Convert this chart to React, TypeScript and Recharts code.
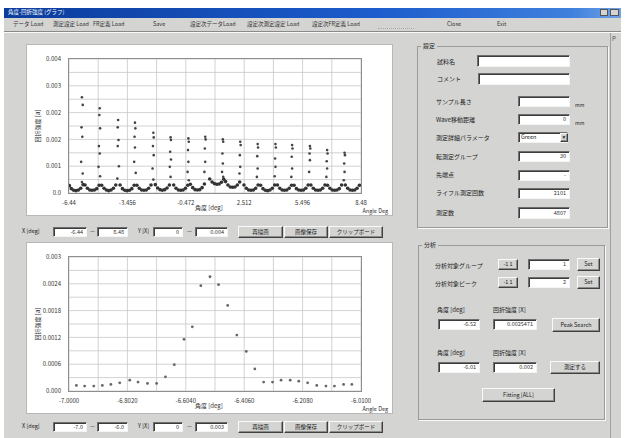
import React from 'react';
import { ScatterChart, Scatter, XAxis, YAxis, CartesianGrid } from 'recharts';

// ---- upper chart: full scan -------------------------------------------------
const topXTicks = [-6.44, -4.948, -3.456, -1.964, -0.472, 1.02, 2.512, 4.004, 5.496, 6.988, 8.48];
const topXLabels = ['-6.44', '', '-3.456', '', '-0.472', '', '2.512', '', '5.496', '', '8.48'];
const topYTicks = [0, 0.0004, 0.0008, 0.0012, 0.0016, 0.002, 0.0024, 0.0028, 0.0032, 0.0036, 0.004];
const topYLabels = ['0.0', '', '0.001', '', '0.002', '', '0.002', '', '0.003', '', '0.004'];

// bowl shaped background points under every step
const topBase: [number, number][] = [
  [-6.42, 0.00022], [-6.32, 0.00013], [-6.2, 0.00008], [-6.08, 0.00007], [-5.96, 0.00009], [-5.84, 0.00014], [-5.72, 0.00025],
  [-5.62, 0.00024], [-5.5, 0.00014], [-5.38, 0.00009], [-5.26, 0.00008], [-5.14, 0.00009], [-5.02, 0.00013], [-4.9, 0.00023],
  [-4.77, 0.00023], [-4.65, 0.00014], [-4.53, 0.00009], [-4.41, 0.00007], [-4.29, 0.00009], [-4.17, 0.00014], [-4.05, 0.00024],
  [-3.83, 0.00024], [-3.71, 0.00013], [-3.59, 0.00008], [-3.47, 0.00007], [-3.35, 0.00008], [-3.23, 0.00013], [-3.11, 0.00023],
  [-2.97, 0.00023], [-2.85, 0.00014], [-2.73, 0.00009], [-2.61, 0.00008], [-2.49, 0.00009], [-2.37, 0.00014], [-2.25, 0.00024],
  [-2.03, 0.00025], [-1.91, 0.00015], [-1.79, 0.0001], [-1.67, 0.00008], [-1.55, 0.0001], [-1.43, 0.00015], [-1.31, 0.00024],
  [-1.09, 0.00024], [-0.97, 0.00014], [-0.85, 0.00009], [-0.73, 0.00008], [-0.61, 0.00009], [-0.49, 0.00014], [-0.37, 0.00023],
  [-0.24, 0.00026], [-0.12, 0.00016], [0.0, 0.0001], [0.12, 0.00009], [0.24, 0.0001], [0.36, 0.00016], [0.48, 0.00027],
  [0.75, 0.00042], [0.87, 0.00033], [0.99, 0.00028], [1.11, 0.00026], [1.23, 0.00027], [1.35, 0.00032], [1.47, 0.00041],
  [1.56, 0.00034], [1.68, 0.00024], [1.8, 0.00018], [1.92, 0.00017], [2.04, 0.00018], [2.16, 0.00024], [2.28, 0.00033],
  [2.5, 0.00024], [2.62, 0.00014], [2.74, 0.00009], [2.86, 0.00008], [2.98, 0.00009], [3.1, 0.00014], [3.22, 0.00024],
  [3.35, 0.00023], [3.47, 0.00013], [3.59, 0.00008], [3.71, 0.00007], [3.83, 0.00009], [3.95, 0.00014], [4.07, 0.00024],
  [4.21, 0.00024], [4.33, 0.00014], [4.45, 0.00009], [4.57, 0.00008], [4.69, 0.00009], [4.81, 0.00014], [4.93, 0.00023],
  [5.06, 0.00023], [5.18, 0.00013], [5.3, 0.00009], [5.42, 0.00008], [5.54, 0.00009], [5.66, 0.00014], [5.78, 0.00024],
  [5.92, 0.00024], [6.04, 0.00014], [6.16, 0.00009], [6.28, 0.00008], [6.4, 0.00009], [6.52, 0.00014], [6.64, 0.00024],
  [6.77, 0.00023], [6.89, 0.00014], [7.01, 0.00009], [7.13, 0.00008], [7.25, 0.00009], [7.37, 0.00013], [7.49, 0.00024],
  [7.68, 0.00024], [7.8, 0.00014], [7.92, 0.00009], [8.04, 0.00008], [8.16, 0.00009], [8.28, 0.00014], [8.4, 0.00023],
];

// vertical columns of measured points
const topPeaks: [number, number][] = [
  [-5.78, 0.00286], [-5.74, 0.00263], [-5.8, 0.00196], [-5.76, 0.00168], [-5.82, 0.00093], [-5.74, 0.00058], [-5.78, 0.00033],
  [-4.87, 0.00253], [-4.89, 0.00233], [-4.85, 0.00193], [-4.91, 0.0014], [-4.87, 0.00118], [-4.93, 0.00078], [-4.85, 0.0005],
  [-3.93, 0.00218], [-3.95, 0.00196], [-3.91, 0.00158], [-3.95, 0.0014], [-3.89, 0.0008], [-3.97, 0.00043],
  [-3.07, 0.0021], [-3.05, 0.00193], [-3.09, 0.00168], [-3.07, 0.00136], [-3.11, 0.00093], [-3.03, 0.0006],
  [-2.13, 0.0018], [-2.11, 0.00166], [-2.15, 0.0014], [-2.11, 0.00113], [-2.17, 0.00073], [-2.13, 0.0004],
  [-1.25, 0.00166], [-1.23, 0.00158], [-1.27, 0.00123], [-1.23, 0.001], [-1.29, 0.00078], [-1.25, 0.00048],
  [-0.34, 0.00163], [-0.32, 0.00153], [-0.36, 0.00128], [-0.34, 0.00093], [-0.38, 0.00063], [-0.32, 0.00038],
  [0.52, 0.00168], [0.54, 0.0016], [0.5, 0.00133], [0.52, 0.00093], [0.48, 0.00063],
  [1.42, 0.0016], [1.44, 0.00153], [1.4, 0.00118], [1.42, 0.00088], [1.38, 0.00063], [1.44, 0.00048],
  [2.31, 0.00153], [2.33, 0.00143], [2.29, 0.00113], [2.31, 0.00078], [2.27, 0.00058],
  [3.2, 0.00146], [3.22, 0.00136], [3.18, 0.0011], [3.2, 0.00073], [3.16, 0.00048],
  [4.11, 0.00146], [4.13, 0.00136], [4.09, 0.00103], [4.11, 0.00078], [4.07, 0.0005],
  [4.96, 0.00143], [4.98, 0.00133], [4.94, 0.00108], [4.96, 0.00073], [4.92, 0.00048],
  [5.87, 0.0014], [5.89, 0.00133], [5.85, 0.00118], [5.87, 0.00098], [5.83, 0.00063],
  [6.75, 0.00128], [6.77, 0.00118], [6.73, 0.00095], [6.75, 0.00073], [6.71, 0.00048],
  [7.64, 0.0012], [7.66, 0.00113], [7.62, 0.00088], [7.64, 0.00063], [7.6, 0.00038],
];

// ---- lower chart: zoomed peak ------------------------------------------------
const botXTicks = [-7.0, -6.901, -6.802, -6.703, -6.604, -6.505, -6.406, -6.307, -6.208, -6.109, -6.01];
const botXLabels = ['-7.0000', '', '-6.8020', '', '-6.6040', '', '-6.4060', '', '-6.2080', '', '-6.0100'];
const botYTicks = [0, 0.0003, 0.0006, 0.0009, 0.0012, 0.0015, 0.0018, 0.0021, 0.0024, 0.0027, 0.003];
const botYLabels = ['0.000', '', '0.0006', '', '0.0012', '', '0.0018', '', '0.0024', '', '0.003'];

const peakAngle = [
  -6.975, -6.947, -6.916, -6.887, -6.858, -6.828, -6.794, -6.766, -6.734, -6.703, -6.673, -6.643, -6.61, -6.582, -6.553, -6.522,
  -6.493, -6.462, -6.431, -6.399, -6.37, -6.34, -6.31, -6.281, -6.25, -6.221, -6.191, -6.16, -6.129, -6.1, -6.069, -6.041,
];
const peakIntensity = [
  0.000125, 0.00011, 0.00011, 0.000125, 0.000147, 0.000184, 0.000243, 0.000199, 0.00017, 0.00017, 0.000317, 0.00059, 0.001157, 0.001437, 0.002359, 0.002558,
  0.002381, 0.001916, 0.001253, 0.000885, 0.000494, 0.000199, 0.000199, 0.000243, 0.000243, 0.000221, 0.000184, 0.000125, 0.00011, 0.00011, 0.000147, 0.000147,
];

const topBaseData = topBase.map(([x, y]) => ({ x, y }));
const topPeakData = topPeaks.map(([x, y]) => ({ x, y }));
const botData = peakAngle.map((x, i) => ({ x, y: peakIntensity[i] }));

const UI_FONT = '"Noto Sans CJK JP", "DejaVu Sans", sans-serif';
const FACE = '#d4d4d2';

const Dot = (r: number, fill: string) => (props: any) =>
  props.cx == null ? <g /> : <circle cx={props.cx} cy={props.cy} r={r} fill={fill} />;

const Txt = ({ x, y, children, size = 6, color = '#222', bold = false }: any) => (
  <div style={{ position: 'absolute', left: x, top: y, fontSize: size, color, whiteSpace: 'nowrap', lineHeight: 1, fontWeight: bold ? 700 : 400 }}>
    {children}
  </div>
);

const Input = ({ x, y, w, h = 10, value = '' }: any) => (
  <div
    style={{
      position: 'absolute', left: x, top: y, width: w, height: h, boxSizing: 'border-box', background: '#fff',
      borderTop: '1px solid #6e6e6e', borderLeft: '1px solid #6e6e6e', borderRight: '1px solid #f4f4f4', borderBottom: '1px solid #f4f4f4',
      boxShadow: 'inset 1px 1px 0 #3c3c3c', fontSize: 5.5, color: '#333', textAlign: 'right', paddingRight: 3, lineHeight: `${h - 2}px`,
    }}
  >
    {value}
  </div>
);

const Btn = ({ x, y, w, h = 12, label }: any) => (
  <div
    style={{
      position: 'absolute', left: x, top: y, width: w, height: h, boxSizing: 'border-box', background: FACE,
      borderTop: '1px solid #fafafa', borderLeft: '1px solid #fafafa', borderRight: '1px solid #404040', borderBottom: '1px solid #404040',
      boxShadow: 'inset -1px -1px 0 #8c8c8c', fontSize: 5.5, color: '#222', textAlign: 'center', lineHeight: `${h - 2}px`,
    }}
  >
    {label}
  </div>
);

const Group = ({ x, y, w, h, title }: any) => (
  <>
    <div style={{ position: 'absolute', left: x, top: y, width: w, height: h, boxSizing: 'border-box', border: '1px solid #9a9a9a', boxShadow: '1px 1px 0 #fafafa' }} />
    <div style={{ position: 'absolute', left: x + 4, top: y - 3, background: FACE, padding: '0 2px', fontSize: 6, color: '#222', lineHeight: 1 }}>{title}</div>
  </>
);

interface PlotProps {
  left: number;
  top: number;
  series: { data: { x: number; y: number }[]; r: number; fill: string }[];
  xDomain: [number, number];
  yDomain: [number, number];
  xTicks: number[];
  xLabels: string[];
  yTicks: number[];
  yLabels: string[];
}

const W = 365;
const H = 170;
const M = { top: 14, right: 31, bottom: 0, left: 0 };
const YW = 42;
const XH = 22;

const Plot = ({ left, top, series, xDomain, yDomain, xTicks, xLabels, yTicks, yLabels }: PlotProps) => {
  const pw = W - M.left - M.right - YW;
  const ph = H - M.top - M.bottom - XH;
  return (
    <div style={{ position: 'absolute', left, top, width: W, height: H, background: '#fff', boxShadow: '0 0 0 1px #b8b8b8' }}>
      <ScatterChart width={W} height={H} margin={M}>
        <CartesianGrid stroke="#c6c6c6" strokeWidth={0.8} />
        <XAxis
          type="number"
          dataKey="x"
          domain={xDomain}
          ticks={xTicks}
          interval={0}
          allowDataOverflow
          height={XH}
          axisLine={false}
          tickLine={false}
          tick={{ fontSize: 6, fill: '#333', fontFamily: UI_FONT }}
          tickFormatter={(_v: number, i: number) => xLabels[i]}
        />
        <YAxis
          type="number"
          dataKey="y"
          domain={yDomain}
          ticks={yTicks}
          interval={0}
          allowDataOverflow
          width={YW}
          axisLine={false}
          tickLine={false}
          tick={{ fontSize: 6, fill: '#333', fontFamily: UI_FONT }}
          tickFormatter={(_v: number, i: number) => yLabels[i]}
        />
        {series.map((s, i) => (
          <Scatter key={i} data={s.data} shape={Dot(s.r, s.fill)} isAnimationActive={false} />
        ))}
      </ScatterChart>
      <div
        style={{
          position: 'absolute', left: M.left + YW - 1, top: M.top - 1, width: pw + 2, height: ph + 2,
          boxSizing: 'border-box', border: '1.5px solid #8e8e8e', pointerEvents: 'none',
        }}
      />
      <div style={{ position: 'absolute', left: 10, top: M.top + ph / 2, transform: 'translate(-50%, -50%) rotate(-90deg)', fontSize: 6, color: '#333', whiteSpace: 'nowrap' }}>
        回折強度 [a]
      </div>
      <div style={{ position: 'absolute', left: 168, top: 160, fontSize: 6, color: '#333', whiteSpace: 'nowrap', lineHeight: 1 }}>角度 [deg]</div>
      <div style={{ position: 'absolute', right: 4, top: 164, fontSize: 5.5, color: '#333', whiteSpace: 'nowrap', lineHeight: 1 }}>Angle Deg</div>
    </div>
  );
};

const toolbar: [number, string][] = [
  [13, 'データ Load'], [53, '測定設定 Load'], [93, 'FR定義 Load'], [153, 'Save'], [190, '設定次データLoad'],
  [247, '設定次測定設定 Load'], [312, '設定次FR定義 Load'], [447, 'Close'], [497, 'Exit'],
];

const settingRows: [string, number][] = [
  ['サンプル長さ', 102], ['Wave移動距離', 120], ['測定詳細パラメータ', 138], ['転測定グループ', 157], ['先端点', 175], ['ライフル測定回数', 193], ['測定数', 213],
];

export default function App() {
  return (
    <div style={{ position: 'absolute', left: 0, top: 0, width: 625, height: 438, background: '#fff', overflow: 'hidden', fontFamily: UI_FONT }}>
      {/* window */}
      <div style={{ position: 'absolute', left: 4, top: 8, width: 617, height: 430, background: FACE }} />
      <div style={{ position: 'absolute', left: 4, top: 8, width: 617, height: 10, background: 'linear-gradient(90deg, #0b3c9c, #1c5ccc 60%, #3f80dd 92%, #6fa2e6)' }} />
      <Txt x={8} y={10} size={5.5} color="#fff">角度-回折強度 (グラフ)</Txt>
      <div style={{ position: 'absolute', left: 600, top: 9, width: 8, height: 7, background: FACE, border: '1px solid #555', boxSizing: 'border-box' }} />
      <div style={{ position: 'absolute', left: 610, top: 9, width: 9, height: 7, background: FACE, border: '1px solid #555', boxSizing: 'border-box' }} />
      {/* toolbar */}
      {toolbar.map(([x, t]) => (
        <Txt key={t} x={x} y={22} size={5.5} color="#333">{t}</Txt>
      ))}
      <div style={{ position: 'absolute', left: 378, top: 22, width: 36, height: 6, borderBottom: '1px dotted #aaa' }} />
      <div style={{ position: 'absolute', left: 4, top: 31, width: 617, height: 0, borderTop: '1px solid #8a8a8a', borderBottom: '1px solid #fafafa' }} />
      <div style={{ position: 'absolute', left: 610, top: 33, width: 0, height: 405, borderLeft: '1px solid #a0a0a0' }} />
      <Txt x={612} y={36} size={6} color="#555">P</Txt>

      {/* charts */}
      <Plot
        left={27}
        top={45}
        series={[
          { data: topBaseData, r: 1.8, fill: '#333' },
          { data: topPeakData, r: 1.3, fill: '#444' },
        ]}
        xDomain={[-6.44, 8.48]}
        yDomain={[0, 0.004]}
        xTicks={topXTicks}
        xLabels={topXLabels}
        yTicks={topYTicks}
        yLabels={topYLabels}
      />
      <Plot
        left={27}
        top={243}
        series={[{ data: botData, r: 1.4, fill: '#666' }]}
        xDomain={[-7.0, -6.01]}
        yDomain={[0, 0.003]}
        xTicks={botXTicks}
        xLabels={botXLabels}
        yTicks={botYTicks}
        yLabels={botYLabels}
      />

      {/* controls under charts */}
      {[
        { y: 227, vals: ['-6.44', '8.48', '0', '0.004'] },
        { y: 422, vals: ['-7.0', '-6.0', '0', '0.003'] },
      ].map((r) => (
        <React.Fragment key={r.y}>
          <Txt x={22} y={r.y + 2} size={5.5}>X [deg]</Txt>
          <Input x={53} y={r.y} w={34} value={r.vals[0]} />
          <Txt x={90} y={r.y + 2} size={5.5}>—</Txt>
          <Input x={97} y={r.y} w={31} value={r.vals[1]} />
          <Txt x={138} y={r.y + 2} size={5.5}>Y [X]</Txt>
          <Input x={153} y={r.y} w={30} value={r.vals[2]} />
          <Txt x={187} y={r.y + 2} size={5.5}>—</Txt>
          <Input x={195} y={r.y} w={33} value={r.vals[3]} />
          <Btn x={238} y={r.y - 1} w={45} label="再描画" />
          <Btn x={284} y={r.y - 1} w={44} label="画像保存" />
          <Btn x={329} y={r.y - 1} w={54} label="クリップボード" />
        </React.Fragment>
      ))}

      {/* settings group */}
      <Group x={417} y={46} w={191} h={182} title="設定" />
      <Txt x={437} y={59}>試料名</Txt>
      <Input x={477} y={55} w={93} h={12} />
      <Txt x={437} y={76}>コメント</Txt>
      <Input x={478} y={73} w={92} h={12} />
      {settingRows.map(([t, y]) => (
        <Txt key={t} x={436} y={y - 3}>{t}</Txt>
      ))}
      <Input x={518} y={96} w={52} h={11} value="" />
      <Txt x={575} y={102} size={5}>mm</Txt>
      <Input x={518} y={114} w={52} h={11} value="0" />
      <Txt x={575} y={120} size={5}>mm</Txt>
      <Input x={518} y={132} w={50} h={11} value="" />
      <Txt x={521} y={135} size={5.5}>Green</Txt>
      <Btn x={560} y={133} w={8} h={9} label="▾" />
      <Input x={518} y={151} w={52} h={11} value="30" />
      <Input x={518} y={170} w={52} h={11} value="-" />
      <Input x={518} y={188} w={52} h={11} value="2101" />
      <Input x={518} y={207} w={52} h={12} value="4807" />

      {/* analysis group */}
      <Group x={418} y={245} w={187} h={175} title="分析" />
      <Txt x={435} y={263}>分析対象グループ</Txt>
      <Btn x={498} y={259} w={20} h={11} label="-1 1" />
      <Input x={528} y={259} w={42} h={11} value="1" />
      <Btn x={577} y={258} w={23} h={13} label="Set" />
      <Txt x={435} y={281}>分析対象ピーク</Txt>
      <Btn x={498} y={277} w={20} h={11} label="-1 1" />
      <Input x={528} y={277} w={42} h={11} value="2" />
      <Btn x={577} y={276} w={23} h={13} label="Set" />
      <Txt x={437} y={307}>角度 [deg]</Txt>
      <Txt x={493} y={307}>回折強度 [X]</Txt>
      <Input x={438} y={319} w={42} h={11} value="-6.52" />
      <Input x={493} y={319} w={44} h={11} value="0.0025471" />
      <Btn x={552} y={318} w={48} h={14} label="Peak Search" />
      <Txt x={437} y={350}>角度 [deg]</Txt>
      <Txt x={493} y={350}>回折強度 [X]</Txt>
      <Input x={438} y={362} w={42} h={11} value="-6.01" />
      <Input x={493} y={362} w={44} h={11} value="0.002" />
      <Btn x={550} y={361} w={50} h={13} label="測定する" />
      <Btn x={482} y={388} w={73} h={14} label="Fitting [ALL]" />
    </div>
  );
}
